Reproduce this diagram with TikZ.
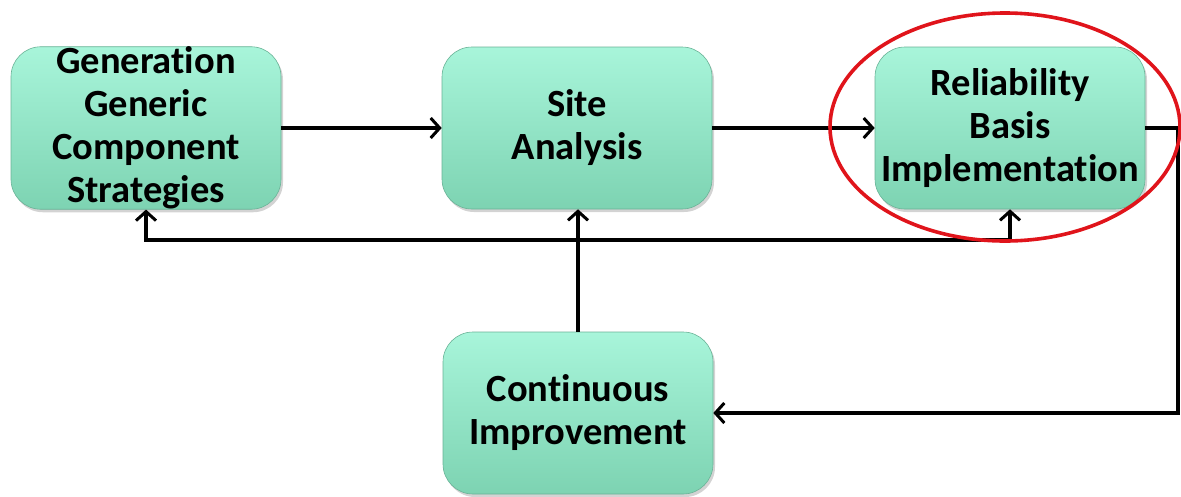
\documentclass[tikz,border=0pt]{standalone}
\usepackage{fontspec}
\setmainfont{Carlito}[RawFeature={-liga;-clig;-calt;-dlig}]
\usetikzlibrary{arrows.meta,shadows,calc,shapes.geometric}
\definecolor{boxtop}{HTML}{A8F5DA}
\definecolor{boxbot}{HTML}{7DD3B2}
\definecolor{ringred}{HTML}{E0141B}
\tikzset{
  stepbox/.style={rounded corners=30pt, minimum width=270pt, minimum height=162pt,
    inner sep=0pt, align=center, top color=boxtop, bottom color=boxbot,
    draw=boxbot!85!black, line width=0.6pt,
    drop shadow={shadow xshift=2pt, shadow yshift=-3pt, opacity=0.35},
    font=\bfseries\fontsize{38.5}{43}\selectfont},
  conn/.style={line width=3.4pt, -{Straight Barb[length=9pt,width=20pt,line width=3pt]}},
}
\begin{document}
\begin{tikzpicture}[x=1pt,y=-1pt]
\useasboundingbox (0,0) rectangle (1181,496);
\node[stepbox] (b1) at (146,128) {Generation\\Generic\\Component\\Strategies};
\node[stepbox] (b2) at (577,128) {Site\\Analysis};
\node[stepbox] (b3) at (1010,128) {Reliability\\Basis\\Implementation};
\node[stepbox] (b4) at (578,413) {Continuous\\Improvement};
\coordinate (j) at (577,240);
\coordinate (r) at (1178,128);
\draw[conn] (b1.east) -- (b2.west);
\draw[conn] (b2.east) -- (b3.west);
\draw[conn] (b3.east) -- (r) |- (b4.east);
\draw[conn] (b4.north) -- (b2.south -| b4.north);
\draw[conn] (j) -| (b1.south);
\draw[conn] (j) -| (b3.south);
\node[draw=ringred, line width=3.6pt, ellipse, inner sep=0pt, minimum width=350pt, minimum height=228pt] (ring) at (1005,127) {};
\end{tikzpicture}
\end{document}
